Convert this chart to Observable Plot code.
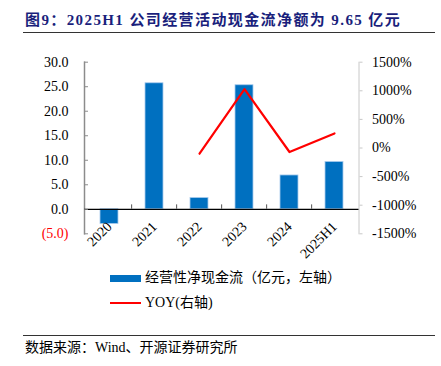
<!DOCTYPE html>
<html><head><meta charset="utf-8">
<script src="https://cdn.jsdelivr.net/npm/d3@7"></script>
<script src="https://cdn.jsdelivr.net/npm/@observablehq/plot@0.6"></script>
<style>
body{margin:0;background:#fff;}
#wrap{position:relative;width:441px;height:366px;overflow:hidden;background:#fff;font-family:"Liberation Serif","Noto Sans CJK SC",serif;color:#000;}
#title{position:absolute;left:25px;top:10px;font-size:15px;font-weight:bold;color:#1a1f7c;letter-spacing:1.4px;line-height:20px;white-space:nowrap;}
.rule{position:absolute;left:23px;width:412px;height:1.5px;background:#333;}
#chart{position:absolute;left:0;top:40px;}
.leg{position:absolute;left:110px;height:20px;font-size:14px;line-height:20px;display:flex;align-items:center;white-space:nowrap;}
.sw{width:31px;margin-right:4px;}
#src{position:absolute;left:25px;top:338px;font-size:14px;line-height:20px;white-space:nowrap;}
</style>
</head><body>
<div id="wrap">
  <div id="title">图9：2025H1 公司经营活动现金流净额为 9.65 亿元</div>
  <div class="rule" style="top:31.5px"></div>
  <div id="chart"></div>
  <div class="leg" style="top:268px"><div class="sw" style="height:7px;background:#0070C0"></div><span>经营性净现金流（亿元，左轴）</span></div>
  <div class="leg" style="top:293px"><div class="sw" style="height:2px;background:#ff0000"></div><span>YOY(右轴)</span></div>
  <div class="rule" style="top:334.5px"></div>
  <div id="src">数据来源：Wind、开源证券研究所</div>
</div>
<script>
const categories = ["2020", "2021", "2022", "2023", "2024", "2025H1"];
const cashflow = [-3.0, 25.7, 2.3, 25.3, 6.9, 9.65];
const yoy = [null, null, -100, 1030, -70, 255];
const leftTicks = [-5, 0, 5, 10, 15, 20, 25, 30];
const rightTicks = [-1500, -1000, -500, 0, 500, 1000, 1500];

const rows = categories.map((c, i) => ({cat: c, cf: cashflow[i], yoy: yoy[i]}));
const toLeft = v => -5 + (v + 1500) / 3000 * 35;
const fromLeft = y => (y + 5) / 35 * 3000 - 1500;

const W = 441, H = 225, ML = 84, MR = 82.5;
const step = (W - ML - MR) / (categories.length - 0.6 + 2 * 0.3);

const chart = Plot.plot({
  width: W, height: H,
  marginLeft: ML, marginRight: MR, marginTop: 21.7, marginBottom: 31.7,
  style: {fontFamily: "Liberation Serif", fontSize: "14px", color: "#000", background: "#fff"},
  x: {domain: categories, paddingInner: 0.6, paddingOuter: 0.3, axis: null},
  y: {domain: [-5, 30], axis: null},
  marks: [
    Plot.frame({anchor: "left", stroke: "#8c8c8c", strokeWidth: 1.5}),
    Plot.frame({anchor: "right", stroke: "#c8c8c8", strokeWidth: 1}),
    Plot.barY(rows, {x: "cat", y: "cf", fill: "#0070C0", stroke: "#a8cbed", strokeWidth: 0.8}),
    Plot.ruleY([0], {stroke: "#000", strokeWidth: 1.2}),
    Plot.ruleX(categories.slice(1), {x: d => d, y1: 0, y2: 0.9, dx: -step / 2, stroke: "#555"}),
    Plot.axisY(leftTicks, {anchor: "left", label: null, tickSize: -4, tickPadding: 20, stroke: "#8c8c8c",
      tickFormat: d => d < 0 ? `(${(-d).toFixed(1)})` : d.toFixed(1),
      fill: d => d < 0 ? "#ff0000" : "#000"}),
    Plot.axisY(rightTicks.map(toLeft), {anchor: "right", label: null, tickSize: 3, tickPadding: 10, stroke: "#c8c8c8",
      tickFormat: d => Math.round(fromLeft(d)) + "%", fill: "#000"}),
    Plot.line(rows.filter(d => d.yoy != null), {x: "cat", y: d => toLeft(d.yoy), stroke: "#ff0000", strokeWidth: 2.2}),
    Plot.text(categories, {x: d => d, y: () => 0, dy: 15, rotate: -45, textAnchor: "end", fill: "#000", fontSize: 14})
  ]
});
document.getElementById("chart").appendChild(chart);
</script>
</body></html>
